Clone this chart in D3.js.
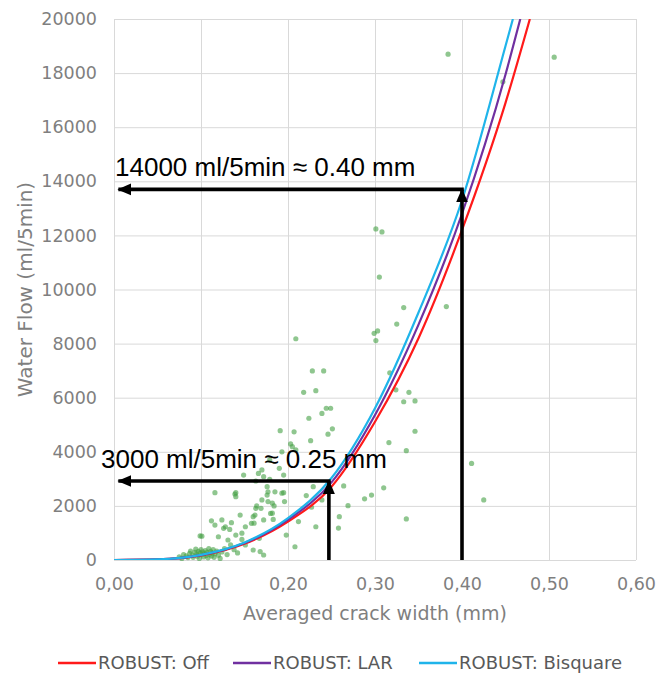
<!DOCTYPE html>
<html>
<head>
<meta charset="utf-8">
<script src="https://cdn.jsdelivr.net/npm/d3@7"></script>
<style>
  html, body { margin: 0; padding: 0; background: #ffffff; }
  svg { display: block; }
</style>
</head>
<body>
<svg id="chart" width="657" height="675"></svg>
<script>
// ---------- data ----------
const xTicks = [0, 0.1, 0.2, 0.3, 0.4, 0.5, 0.6];
const yTicks = [0, 2000, 4000, 6000, 8000, 10000, 12000, 14000, 16000, 18000, 20000];

const seriesNames = ["ROBUST: Off", "ROBUST: LAR", "ROBUST: Bisquare"];
const seriesColors = ["#ff1a1a", "#7030a0", "#1fb4ea"];

const offX = [0, 0.05, 0.10, 0.15, 0.20, 0.25, 0.30, 0.35, 0.40, 0.45, 0.478];
const offY = [0, 20, 170, 600, 1420, 2710, 5110, 8200, 12200, 16900, 20000];
const larX = [0, 0.05, 0.10, 0.15, 0.20, 0.25, 0.30, 0.35, 0.40, 0.45, 0.467];
const larY = [0, 22, 180, 625, 1490, 2870, 5360, 8700, 12800, 17950, 20000];
const bisX = [0, 0.05, 0.10, 0.15, 0.20, 0.25, 0.30, 0.35, 0.40, 0.45, 0.4585];
const bisY = [0, 25, 190, 650, 1550, 3030, 5610, 9150, 13300, 19000, 20000];

const scatterX = [0.384,0.506,0.447,0.301,0.308,0.305,0.333,0.382,0.325,0.299,0.303,0.301,0.209,
  0.228,0.241,0.317,0.218,0.232,0.324,0.339,0.333,0.346,0.244,0.249,0.239,0.224,0.251,0.246,0.346,
  0.191,0.207,0.226,0.316,0.336,0.203,0.205,0.209,0.193,0.179,0.411,0.425,0.190,0.195,0.179,0.170,
  0.172,0.149,0.163,0.166,0.264,0.310,0.296,0.288,0.269,0.229,0.239,0.221,0.227,0.259,0.336,0.232,
  0.258,0.212,0.195,0.182,0.176,0.164,0.180,0.172,0.161,0.198,0.208,0.116,0.140,0.140,0.193,0.170,
  0.163,0.160,0.151,0.145,0.135,0.128,0.124,0.140,0.133,0.116,0.099,0.120,0.131,0.183,0.160,0.172,
  0.112,0.147,0.167,0.168,0.177,0.176,0.185,0.196,0.177,0.184,0.169,0.162,0.126,0.101,0.147,0.151,
  0.139,0.158,0.182,
  0.075,0.078,0.080,0.083,0.085,0.087,0.088,0.090,0.091,0.093,0.094,0.095,0.096,0.097,0.098,0.099,
  0.100,0.101,0.102,0.103,0.104,0.105,0.106,0.107,0.108,0.109,0.110,0.111,0.112,0.113,0.114,0.115,
  0.116,0.118,0.120,0.122,0.124,0.127,0.130,0.134,0.138,0.142];
const scatterY = [18700,18590,17680,12240,12130,10460,9330,9370,8720,8380,8470,8110,8180,
  6990,6990,6920,6200,6260,6290,6200,5850,5880,5610,5610,5420,5240,4850,4650,4760,
  4780,4740,4410,4340,4040,4290,4190,4070,4000,3700,3570,2220,3390,3140,2980,3330,
  3080,3140,2920,3200,2740,2670,2400,2260,2010,2710,2220,2380,1950,1600,1520,1230,
  1180,1420,2490,2100,2400,2000,1720,1480,1360,920,490,2490,2490,2340,2470,2220,
  1910,1600,1230,1660,1380,1230,1480,920,1130,1290,890,860,740,1500,370,185,
  1450,990,800,310,2520,2710,2520,2160,2160,2000,1910,1660,1170,880,760,555,
  2440,1355,1730,
  120,60,200,150,90,250,330,180,100,280,400,220,140,320,60,260,
  380,190,300,110,240,350,170,280,80,420,210,320,150,260,380,100,
  230,330,180,60,300,420,200,560,380,260];

const annoFlow = [13700, 2920];
const annoWidth = [0.40, 0.247];
const annoLabels = ["14000 ml/5min \u2248 0.40 mm", "3000 ml/5min \u2248 0.25 mm"];
const annoLabelFlow = [14180, 3400];

// ---------- layout ----------
const svg = d3.select("#chart");
const pLeft = 114, pRight = 636, pTop = 19, pBottom = 560;
const x = d3.scaleLinear().domain([0, 0.6]).range([pLeft, pRight]);
const y = d3.scaleLinear().domain([0, 20000]).range([pBottom, pTop]);

const tickColor = "#7f7f7f";
const font = "'DejaVu Sans', Verdana, sans-serif";

// gridlines
svg.append("g")
  .attr("transform", `translate(0,${pBottom})`)
  .call(d3.axisBottom(x).tickValues(xTicks).tickSize(-(pBottom - pTop)).tickFormat(""))
  .call(g => g.select(".domain").remove())
  .call(g => g.selectAll("line").attr("stroke", "#d9d9d9").attr("stroke-width", 1));
svg.append("g")
  .attr("transform", `translate(${pLeft},0)`)
  .call(d3.axisLeft(y).tickValues(yTicks).tickSize(-(pRight - pLeft)).tickFormat(""))
  .call(g => g.select(".domain").remove())
  .call(g => g.selectAll("line").attr("stroke", "#d9d9d9").attr("stroke-width", 1));

// tick labels
svg.append("g")
  .attr("transform", `translate(0,${pBottom})`)
  .call(d3.axisBottom(x).tickValues(xTicks).tickSize(0).tickPadding(0)
    .tickFormat(d => d3.format(".2f")(d).replace(".", ",")))
  .call(g => g.select(".domain").remove())
  .call(g => g.selectAll("text").attr("font-family", font).attr("font-size", 17.5)
    .attr("fill", tickColor).attr("dy", null).attr("y", 30));
svg.append("g")
  .attr("transform", `translate(${pLeft},0)`)
  .call(d3.axisLeft(y).tickValues(yTicks).tickSize(0).tickPadding(17).tickFormat(d3.format("d")))
  .call(g => g.select(".domain").remove())
  .call(g => g.selectAll("text").attr("font-family", font).attr("font-size", 17.5)
    .attr("fill", tickColor));

// axis titles
svg.append("text")
  .attr("x", (pLeft + pRight) / 2).attr("y", 620)
  .attr("text-anchor", "middle")
  .attr("font-family", font).attr("font-size", 19).attr("fill", tickColor)
  .text("Averaged crack width (mm)");
svg.append("text")
  .attr("transform", `translate(32,${(pTop + pBottom) / 2}) rotate(-90)`)
  .attr("text-anchor", "middle")
  .attr("font-family", font).attr("font-size", 20).attr("fill", tickColor)
  .text("Water Flow (ml/5min)");

// scatter
const pts = scatterX.map((v, i) => [v, scatterY[i]]);
svg.append("g").selectAll("circle").data(pts).join("circle")
  .attr("cx", d => x(d[0])).attr("cy", d => y(d[1]))
  .attr("r", 2.6)
  .attr("fill", "#45a045").attr("fill-opacity", 0.6);

// fitted curves
const clip = svg.append("clipPath").attr("id", "plotclip");
clip.append("rect").attr("x", pLeft).attr("y", pTop).attr("width", pRight - pLeft).attr("height", pBottom - pTop);
const line = d3.line().x(d => x(d[0])).y(d => y(d[1])).curve(d3.curveMonotoneX);
const curves = [
  offX.map((v, i) => [v, offY[i]]),
  larX.map((v, i) => [v, larY[i]]),
  bisX.map((v, i) => [v, bisY[i]])
];
svg.append("g").attr("clip-path", "url(#plotclip)")
  .selectAll("path").data(curves).join("path")
  .attr("d", line).attr("fill", "none")
  .attr("stroke", (d, i) => seriesColors[i]).attr("stroke-width", 2.2);

// arrows
const defs = svg.append("defs");
defs.append("marker").attr("id", "ah")
  .attr("viewBox", "0 -7 14 14").attr("refX", 13).attr("refY", 0)
  .attr("markerUnits", "userSpaceOnUse").attr("markerWidth", 14).attr("markerHeight", 14)
  .attr("orient", "auto")
  .append("path").attr("d", "M0,-6L14,0L0,6Z").attr("fill", "#000");

const ag = svg.append("g");
annoFlow.forEach((f, i) => {
  const w = annoWidth[i];
  ag.append("line")
    .attr("x1", x(w)).attr("y1", y(0)).attr("x2", x(w)).attr("y2", y(f))
    .attr("stroke", "#000").attr("stroke-width", 3.6).attr("marker-end", "url(#ah)");
  ag.append("line")
    .attr("x1", x(w) + 1.8).attr("y1", y(f)).attr("x2", x(0.005)).attr("y2", y(f))
    .attr("stroke", "#000").attr("stroke-width", 3.6).attr("marker-end", "url(#ah)");
});

// annotation labels
svg.append("g").selectAll("text").data(annoLabels).join("text")
  .attr("x", (d, i) => i === 0 ? x(0) + 1 : x(0) - 13)
  .attr("y", (d, i) => y(annoLabelFlow[i]))
  .attr("font-family", "'Liberation Sans', Arial, sans-serif")
  .attr("font-size", 26).attr("fill", "#000")
  .text(d => d);

// legend
const legendX = [58, 233, 419];
const lg = svg.append("g");
seriesNames.forEach((n, i) => {
  lg.append("line")
    .attr("x1", legendX[i]).attr("x2", legendX[i] + 38)
    .attr("y1", 663).attr("y2", 663)
    .attr("stroke", seriesColors[i]).attr("stroke-width", 2.5);
  lg.append("text")
    .attr("x", legendX[i] + 40).attr("y", 669)
    .attr("font-family", font).attr("font-size", 18).attr("fill", "#595959")
    .text(n);
});
</script>
</body>
</html>
